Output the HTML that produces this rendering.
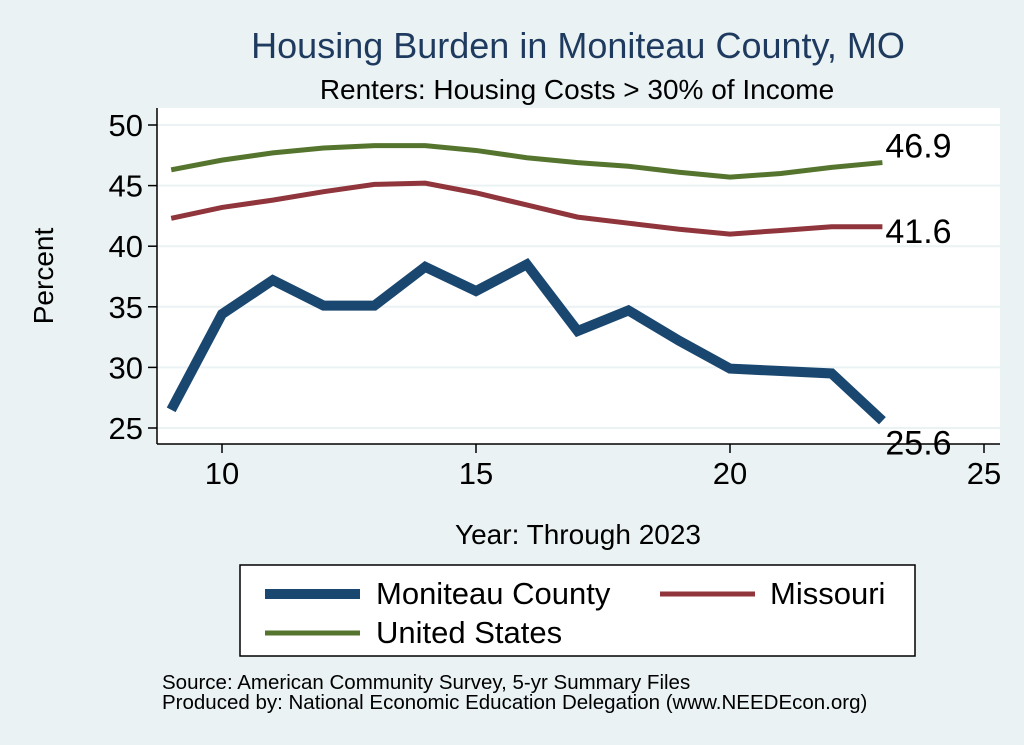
<!DOCTYPE html>
<html><head><meta charset="utf-8"><style>
body{margin:0;background:#eaf2f3;}
svg{display:block;font-family:"Liberation Sans",sans-serif;}
</style></head><body>
<svg id="chart" width="1024" height="745" viewBox="0 0 1024 745">
<rect x="0" y="0" width="1024" height="745" fill="#eaf2f3"/>
<rect x="157" y="108" width="843" height="336" fill="#ffffff"/>
<text x="578" y="58" text-anchor="middle" font-size="36" fill="#1f3a5f">Housing Burden in Moniteau County, MO</text>
<text x="577" y="99" text-anchor="middle" font-size="28" fill="#000">Renters: Housing Costs &gt; 30% of Income</text>
<g id="grid"></g><g id="axes"></g><g id="series"></g>
<text x="53" y="276" text-anchor="middle" font-size="28" transform="rotate(-90 53 276)">Percent</text>
<text x="578" y="544" text-anchor="middle" font-size="28">Year: Through 2023</text>
<rect x="240" y="565" width="675" height="91" fill="#fff" stroke="#000" stroke-width="1.5"/>
<g><line x1="265" y1="594" x2="360" y2="594" stroke="#1a476f" stroke-width="10"/><text x="376" y="604" font-size="31">Moniteau County</text></g>
<g><line x1="660" y1="594" x2="755" y2="594" stroke="#90353b" stroke-width="5"/><text x="770" y="604" font-size="31">Missouri</text></g>
<g><line x1="265" y1="633" x2="360" y2="633" stroke="#55752f" stroke-width="5"/><text x="376" y="643" font-size="31">United States</text></g>
<text x="162" y="689" font-size="20.5">Source: American Community Survey, 5-yr Summary Files</text>
<text x="162" y="709" font-size="20.5">Produced by: National Economic Education Delegation (www.NEEDEcon.org)</text>
</svg>
<script>
const years=[9,10,11,12,13,14,15,16,17,18,19,20,21,22,23];
const moniteau=[26.5,34.4,37.2,35.1,35.1,38.3,36.3,38.5,33.0,34.7,32.2,29.9,29.7,29.5,25.6];
const missouri=[42.3,43.2,43.8,44.5,45.1,45.2,44.4,43.4,42.4,41.9,41.4,41.0,41.3,41.6,41.6];
const usa=[46.3,47.1,47.7,48.1,48.3,48.3,47.9,47.3,46.9,46.6,46.1,45.7,46.0,46.5,46.9];
const yTicks=[25,30,35,40,45,50];
const xTicks=[10,15,20,25];
const NS='http://www.w3.org/2000/svg';
function xs(v){return 222+(v-10)*50.8;}
function ys(v){return 428-(v-25)*12.12;}
function mk(t,a,p){const e=document.createElementNS(NS,t);for(const k in a)e.setAttribute(k,a[k]);p.appendChild(e);return e;}
const grid=document.getElementById('grid'),axes=document.getElementById('axes'),ser=document.getElementById('series');
yTicks.forEach(t=>{
  const g=mk('line',{x1:157,x2:1000,y1:ys(t),y2:ys(t),stroke:'#eaf2f3','stroke-width':2},grid);
  
  
  const k=mk('line',{x1:148,x2:157,y1:ys(t),y2:ys(t),stroke:'#000','stroke-width':1.5},axes);
  
  
  const l=mk('text',{x:143,y:ys(t)+11,'text-anchor':'end','font-size':31},axes);l.textContent=t;
  
  
});
xTicks.forEach(t=>{
  const k=mk('line',{x1:xs(t),x2:xs(t),y1:444,y2:453,stroke:'#000','stroke-width':1.5},axes);
  
  
  const l=mk('text',{x:xs(t),y:484,'text-anchor':'middle','font-size':31},axes);l.textContent=t;
  
  
});
const ya=mk('line',{x1:157,x2:157,y1:108,y2:444,stroke:'#000','stroke-width':1.5},axes);


const xa=mk('line',{x1:157,x2:1000,y1:444,y2:444,stroke:'#000','stroke-width':1.5},axes);


function draw(vals,color,w,name,dy){
  const pts=vals.map((v,i)=>xs(years[i])+','+ys(v)).join(' ');
  const p=mk('polyline',{points:pts,fill:'none',stroke:color,'stroke-width':w,'stroke-linejoin':'miter'},ser);
  
  
  const last=vals[vals.length-1];
  const l=mk('text',{x:xs(years[years.length-1])+3,y:ys(last)+dy,'font-size':34},ser);
  l.textContent=last.toFixed(1);
  
  
}
draw(usa,'#55752f',5,'united-states',-5);
draw(missouri,'#90353b',5,'missouri',16);
draw(moniteau,'#1a476f',10,'moniteau-county',34);
</script>
</body></html>
